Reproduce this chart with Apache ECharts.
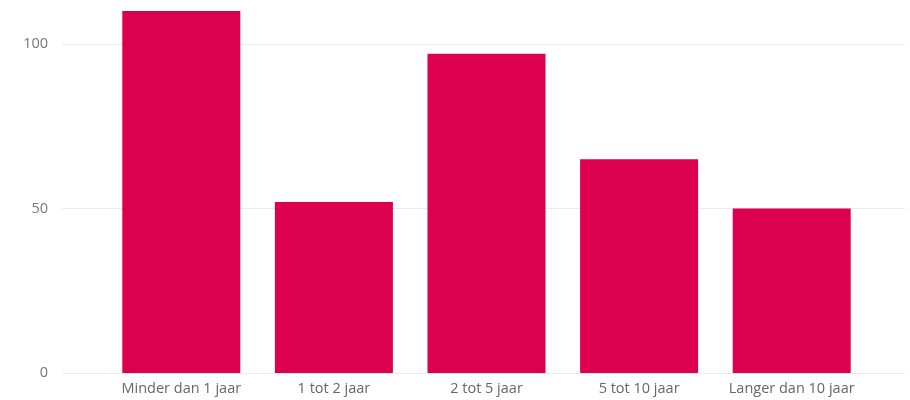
<!DOCTYPE html>
<html style="height: 100%">
<head>
    <meta charset="UTF-8">
    <title>Bar chart</title>
    <script src="https://cdn.jsdelivr.net/npm/echarts@6/dist/echarts.min.js"></script>
</head>
<body style="height: 100%; margin: 0; background: #fff">
    <div id="main" style="width: 910px; height: 400px;"></div>
    <script>
        // categorieën en waarden
        var categories = ['Minder dan 1 jaar', '1 tot 2 jaar', '2 tot 5 jaar', '5 tot 10 jaar', 'Langer dan 10 jaar'];
        var values = [110, 52, 97, 65, 50];
        var yMin = 0, yMax = 120, yStep = 50;

        var myChart = echarts.init(document.getElementById('main'));
        var labelFont = '"Open Sans", "Noto Sans", sans-serif';

        var option = {
            animation: false,
            grid: [
                { left: 105, right: 42, top: -21.8, bottom: 27, outerBoundsMode: 'none' },  // balken
                { left: 62, right: 5, top: -21.8, bottom: 27, outerBoundsMode: 'none' }     // rasterlijnen
            ],
            xAxis: [
                {
                    type: 'category',
                    gridIndex: 0,
                    data: categories,
                    axisLine: { show: false },
                    axisTick: { show: false },
                    axisLabel: {
                        color: '#666',
                        fontFamily: labelFont,
                        fontSize: 14.5,
                        margin: 8,
                        interval: 0
                    }
                },
                { type: 'value', gridIndex: 1, show: false }
            ],
            yAxis: [
                {
                    type: 'value',
                    gridIndex: 0,
                    min: yMin, max: yMax, interval: yStep,
                    show: false,
                    splitLine: { show: false }
                },
                {
                    type: 'value',
                    gridIndex: 1,
                    min: yMin, max: yMax, interval: yStep,
                    axisLine: { show: false },
                    axisTick: { show: false },
                    axisLabel: {
                        color: '#777',
                        fontFamily: labelFont,
                        fontSize: 14.5,
                        margin: 14
                    },
                    splitLine: { lineStyle: { color: '#ebebeb', width: 1 } }
                }
            ],
            series: [
                {
                    type: 'bar',
                    xAxisIndex: 0,
                    yAxisIndex: 0,
                    data: values,
                    barWidth: 118,
                    itemStyle: { color: '#dc004e' }
                }
            ]
        };

        myChart.setOption(option);
    </script>
</body>
</html>
